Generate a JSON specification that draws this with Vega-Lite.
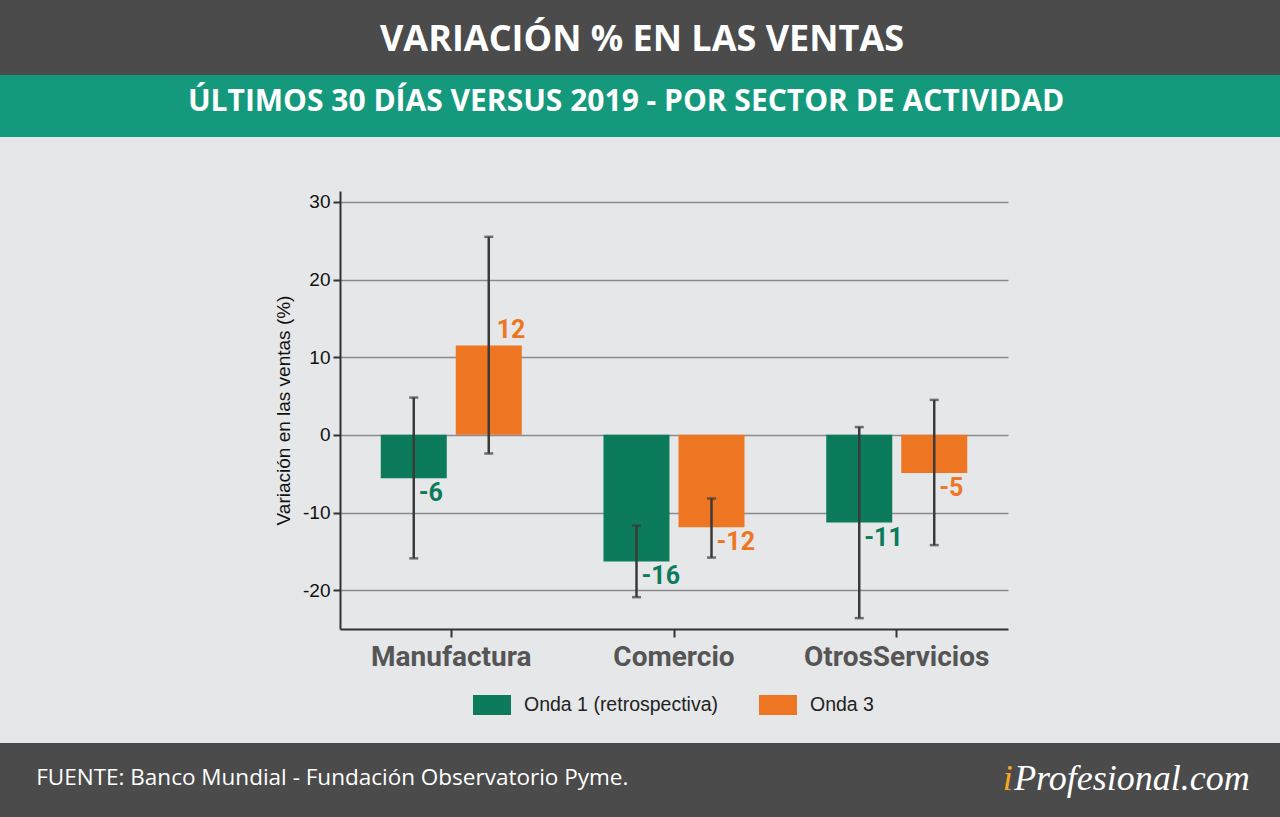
{
  "$schema": "https://vega.github.io/schema/vega-lite/v6.json",
  "background": "#e6e7e8",
  "padding": 0,
  "spacing": 0,
  "config": {
    "view": {"stroke": null},
    "concat": {"spacing": 0},
    "locale": {"number": {"decimal": ".", "thousands": ",", "grouping": [3], "currency": ["$", ""], "minus": "-"}}
  },
  "datasets": {
    "ventas": [
      {"sector": "Manufactura", "onda": "Onda 1 (retrospectiva)", "valor": -5.6, "lo": -15.9, "hi": 4.8},
      {"sector": "Manufactura", "onda": "Onda 3", "valor": 11.5, "lo": -2.4, "hi": 25.5},
      {"sector": "Comercio", "onda": "Onda 1 (retrospectiva)", "valor": -16.3, "lo": -20.9, "hi": -11.7},
      {"sector": "Comercio", "onda": "Onda 3", "valor": -11.9, "lo": -15.8, "hi": -8.2},
      {"sector": "OtrosServicios", "onda": "Onda 1 (retrospectiva)", "valor": -11.3, "lo": -23.6, "hi": 1.0},
      {"sector": "OtrosServicios", "onda": "Onda 3", "valor": -4.9, "lo": -14.2, "hi": 4.5}
    ]
  },
  "vconcat": [
    {
      "width": 1280, "height": 75,
      "view": {"fill": "#4b4b4b", "stroke": null},
      "data": {"values": [{"t": "VARIACIÓN % EN LAS VENTAS"}]},
      "mark": {"type": "text", "font": "Open Sans", "fontWeight": "bold", "fontSize": 36, "color": "white", "baseline": "middle", "dx": 2, "dy": 2},
      "encoding": {"text": {"field": "t"}}
    },
    {
      "width": 1280, "height": 62,
      "view": {"fill": "#14997d", "stroke": null},
      "data": {"values": [{"t": "ÚLTIMOS 30 DÍAS VERSUS 2019 - POR SECTOR DE ACTIVIDAD"}]},
      "mark": {"type": "text", "font": "Open Sans", "fontWeight": "bold", "fontSize": 30, "color": "white", "baseline": "middle", "dx": -14, "dy": -4},
      "encoding": {"text": {"field": "t"}}
    },
    {
      "width": 1280, "height": 53,
      "data": {"values": [{}]},
      "mark": {"type": "text"},
      "encoding": {"text": {"value": ""}}
    },
    {
      "spacing": 0,
      "hconcat": [
        {
          "width": 274, "height": 10,
          "data": {"values": [{}]},
          "mark": {"type": "text"},
          "encoding": {"text": {"value": ""}}
        },
        {
          "width": 668, "height": 438,
          "data": {"name": "ventas"},
          "encoding": {
            "x": {
              "field": "sector", "type": "nominal", "title": null,
              "sort": ["Manufactura", "Comercio", "OtrosServicios"],
              "scale": {"paddingInner": 0.367, "paddingOuter": 0.183},
              "axis": {
                "labelAngle": 0, "labelFont": "Roboto", "labelFontWeight": "bold", "labelFontSize": 28,
                "labelColor": "#555555", "labelPadding": 6, "labelLimit": 0, "tickSize": 8, "tickWidth": 2, "tickColor": "#333333",
                "domainColor": "#333333", "domainWidth": 2, "grid": false
              }
            },
            "xOffset": {
              "field": "onda", "type": "nominal",
              "sort": ["Onda 1 (retrospectiva)", "Onda 3"],
              "scale": {"paddingInner": 0.12, "paddingOuter": 0}
            }
          },
          "layer": [
            {
              "mark": {"type": "bar"},
              "encoding": {
                "y": {
                  "field": "valor", "type": "quantitative", "title": "Variación en las ventas (%)",
                  "scale": {"domain": [-25, 31.4], "nice": false, "zero": false},
                  "axis": {
                    "values": [-20, -10, 0, 10, 20, 30], "labelFont": "Liberation Sans", "labelFontSize": 19,
                    "labelColor": "#111111", "labelPadding": 3, "tickSize": 7, "tickWidth": 2, "tickColor": "#333333",
                    "domainColor": "#333333", "domainWidth": 2, "gridColor": "#8a8a8a", "gridWidth": 1.5,
                    "titleFont": "Liberation Sans", "titleFontSize": 19, "titleFontWeight": "normal",
                    "titleColor": "#111111", "titlePadding": 9
                  }
                },
                "color": {
                  "field": "onda", "type": "nominal",
                  "scale": {"domain": ["Onda 1 (retrospectiva)", "Onda 3"], "range": ["#0b7b5b", "#ee7623"]},
                  "legend": {
                    "orient": "none", "legendX": 473, "legendY": 686, "direction": "horizontal", "title": null,
                    "symbolType": "M-1,-0.526H1V0.526H-1Z", "symbolSize": 1444, "symbolStrokeWidth": 0, "symbolOpacity": 1,
                    "labelFont": "Liberation Sans", "labelFontSize": 19.5, "labelColor": "#222222", "labelLimit": 0,
                    "labelOffset": 13, "columnPadding": 40, "padding": 0
                  }
                }
              }
            },
            {
              "mark": {"type": "rule", "color": "#3a3a3a", "strokeWidth": 2.5},
              "encoding": {"y": {"field": "lo", "type": "quantitative"}, "y2": {"field": "hi"}}
            },
            {
              "mark": {"type": "tick", "orient": "horizontal", "size": 9, "thickness": 2.5, "color": "#3a3a3a"},
              "encoding": {"y": {"field": "lo", "type": "quantitative"}}
            },
            {
              "mark": {"type": "tick", "orient": "horizontal", "size": 9, "thickness": 2.5, "color": "#3a3a3a"},
              "encoding": {"y": {"field": "hi", "type": "quantitative"}}
            },
            {
              "transform": [{"filter": "datum.valor < 0"}],
              "mark": {"type": "text", "align": "left", "baseline": "middle", "dx": 5, "dy": 15, "font": "Roboto", "fontWeight": "bold", "fontSize": 25},
              "encoding": {
                "y": {"field": "valor", "type": "quantitative"},
                "text": {"field": "valor", "type": "quantitative", "format": ".0f"},
                "color": {"field": "onda", "type": "nominal"}
              }
            },
            {
              "transform": [{"filter": "datum.valor >= 0"}],
              "mark": {"type": "text", "align": "left", "baseline": "middle", "dx": 8, "dy": -16, "font": "Roboto", "fontWeight": "bold", "fontSize": 25},
              "encoding": {
                "y": {"field": "valor", "type": "quantitative"},
                "text": {"field": "valor", "type": "quantitative", "format": ".0f"},
                "color": {"field": "onda", "type": "nominal"}
              }
            }
          ]
        }
      ]
    },
    {
      "width": 1280, "height": 72,
      "data": {"values": [{}]},
      "mark": {"type": "text"},
      "encoding": {"text": {"value": ""}}
    },
    {
      "width": 1280, "height": 74,
      "view": {"fill": "#4b4b4b", "stroke": null},
      "encoding": {
        "x": {"field": "lado", "type": "nominal", "axis": null, "scale": {"type": "point", "domain": ["izq", "der"], "padding": 0.03}}
      },
      "layer": [
        {
          "data": {"values": [{"lado": "izq", "texto": "FUENTE: Banco Mundial - Fundación Observatorio Pyme."}]},
          "mark": {"type": "text", "align": "left", "baseline": "middle", "font": "Open Sans", "fontSize": 22.5, "color": "white", "dy": -2},
          "encoding": {"text": {"field": "texto"}}
        },
        {
          "data": {"values": [{"lado": "der", "texto": "Profesional.com"}]},
          "mark": {"type": "text", "align": "right", "baseline": "middle", "font": "Liberation Serif", "fontStyle": "italic", "fontSize": 36, "color": "white", "dx": 6, "dy": -1},
          "encoding": {"text": {"field": "texto"}}
        },
        {
          "data": {"values": [{"lado": "der", "texto": "i"}]},
          "mark": {"type": "text", "align": "right", "baseline": "middle", "font": "Liberation Serif", "fontStyle": "italic", "fontSize": 36, "color": "#f5a623", "dx": -231, "dy": -1},
          "encoding": {"text": {"field": "texto"}}
        }
      ]
    }
  ]
}
